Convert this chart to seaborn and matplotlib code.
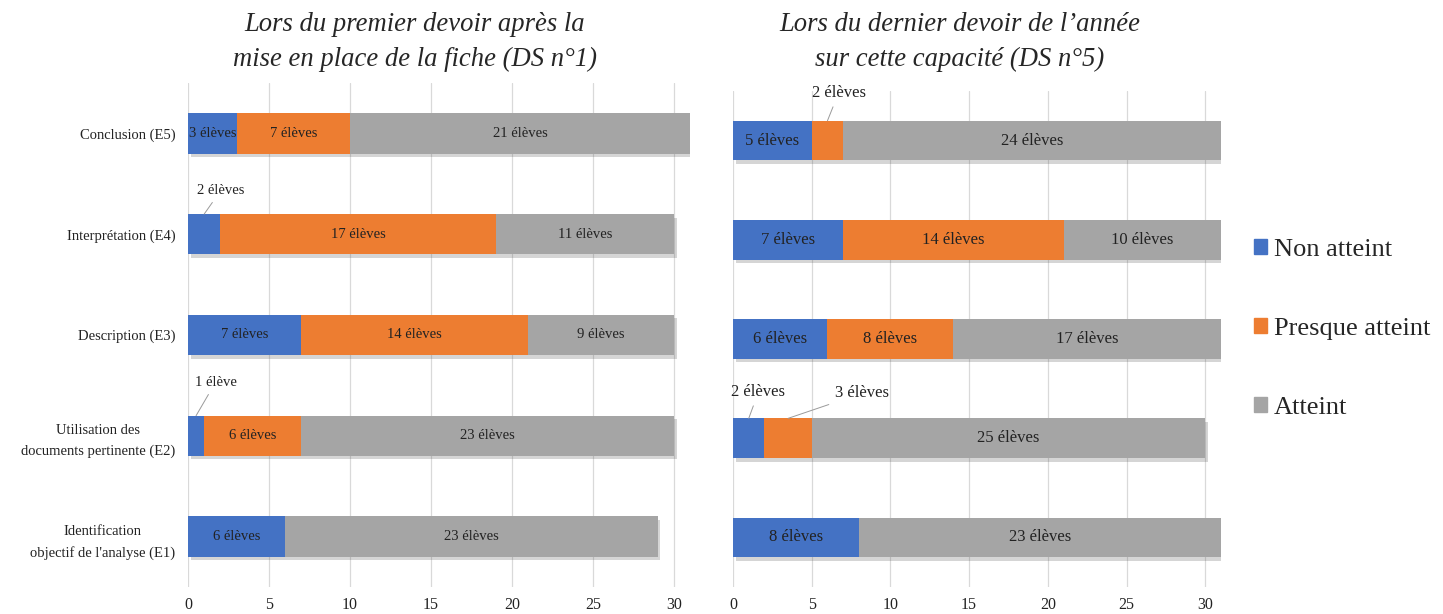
import numpy as np
import seaborn as sns
import matplotlib.pyplot as plt
import matplotlib.patheffects as pe
from matplotlib.patches import Patch

# categories (haut -> bas)
categories = ['Conclusion (E5)', 'Interprétation (E4)', 'Description (E3)',
              'Utilisation des\ndocuments pertinente (E2)',
              'Identification\nobjectif de l\'analyse (E1)']
series_names = ['Non atteint', 'Presque atteint', 'Atteint']

# DS n°1
ds1_non = [3, 2, 7, 1, 6]
ds1_presque = [7, 17, 14, 6, 0]
ds1_atteint = [21, 11, 9, 23, 23]

# DS n°5
ds5_non = [5, 7, 6, 2, 8]
ds5_presque = [2, 14, 8, 3, 0]
ds5_atteint = [24, 10, 17, 25, 23]

colors = ['#4472C4', '#ED7D31', '#A5A5A5']
titles = ['Lors du premier devoir après la\nmise en place de la fiche (DS n°1)',
          'Lors du dernier devoir de l\u2019année\nsur cette capacité (DS n°5)']

sns.set_style('white')
plt.rcParams['font.family'] = ['Liberation Serif', 'DejaVu Serif']

fig = plt.figure(figsize=(14.43, 6.14), dpi=100)
ax1 = fig.add_axes([188/1443, 1-587/614, 502/1443, 504/614])
ax2 = fig.add_axes([733/1443, 1-587/614, 488/1443, 496/614])


def label_txt(v):
    return f'{v} élève' if v == 1 else f'{v} élèves'


def stacked(ax, non, presque, atteint, fs, callouts):
    vals = np.array([non, presque, atteint])
    cum = vals.cumsum(axis=0)
    # on dessine du plus long au plus court (astuce empilement seaborn)
    for k in [2, 1, 0]:
        sns.barplot(x=cum[k], y=categories, orient='h', color=colors[k],
                    width=0.4, saturation=1, linewidth=0, ax=ax, zorder=3)
    # ombre sous la barre complete
    for p in ax.patches[:len(categories)]:
        p.set_path_effects([pe.SimplePatchShadow(offset=(2, -2.5), alpha=0.22, shadow_rgbFace='#444444'),
                            pe.Normal()])
    for i in range(len(categories)):
        for k in range(3):
            v = vals[k, i]
            if v == 0:
                continue
            xc = cum[k, i] - v / 2
            if (i, k) in callouts:
                dx, dy = callouts[(i, k)]
                ax.annotate(label_txt(v), xy=(xc, i - 0.2), xytext=(dx, dy),
                            textcoords='offset points', ha='center', va='center',
                            fontsize=fs, color='#222222', zorder=5,
                            arrowprops=dict(arrowstyle='-', color='#9a9a9a', lw=0.7,
                                            shrinkA=2, shrinkB=0))
            else:
                ax.text(xc, i, label_txt(v), ha='center', va='center',
                        fontsize=fs, color='#222222', zorder=5)
    ax.set_xlim(0, 31)
    ax.set_ylim(4.5, -0.5)
    ax.set_xticks(range(0, 31, 5))
    ax.grid(axis='x', color='#d9d9d9', lw=0.9, zorder=0)
    ax.set_axisbelow(True)
    sns.despine(ax=ax, left=True, bottom=True)
    ax.tick_params(axis='x', length=0, pad=7, labelsize=11.5, labelcolor='#222222')
    ax.set_xlabel('')
    ax.set_ylabel('')


stacked(ax1, ds1_non, ds1_presque, ds1_atteint, 10.5,
        {(1, 0): (12, 17), (3, 0): (14, 24)})
stacked(ax2, ds5_non, ds5_presque, ds5_atteint, 12,
        {(0, 1): (8, 20), (3, 0): (7, 19), (3, 1): (53, 18)})

ax1.tick_params(axis='y', length=0, pad=9, labelsize=10.5, labelcolor='#222222')
for t in ax1.get_yticklabels():
    t.set_multialignment('center')
    t.set_linespacing(1.75)
ax2.set_yticklabels([])
ax2.tick_params(axis='y', length=0)

fig.text(415/1443, 1-42/614, titles[0], ha='center', va='center', fontsize=19.2,
         style='italic', linespacing=1.55)
fig.text(960/1443, 1-42/614, titles[1], ha='center', va='center', fontsize=19.2,
         style='italic', linespacing=1.55)

handles = [Patch(color=c) for c in colors]
fig.legend(handles, series_names, loc='center left', bbox_to_anchor=(1254/1443, 1-329/614),
           frameon=False, fontsize=19, handlelength=0.5, handleheight=0.5,
           handletextpad=0.25, labelspacing=2.15, borderpad=0, borderaxespad=0)

fig.savefig('out.png', dpi=100)
